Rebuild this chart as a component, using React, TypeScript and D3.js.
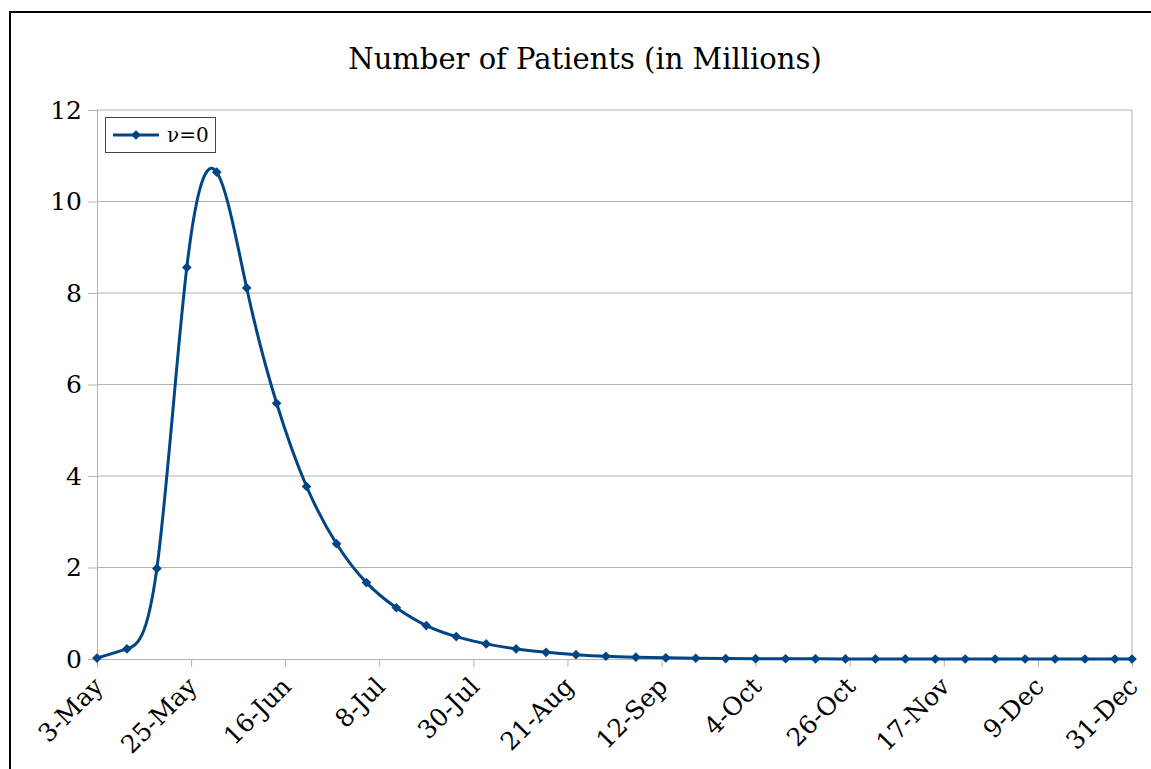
import React, { useEffect, useRef } from 'react';
import * as d3 from 'd3';

// weekly samples, plus the final day of the year
const dates: string[] = [
  '2020-05-03', '2020-05-10', '2020-05-17', '2020-05-24', '2020-05-31',
  '2020-06-07', '2020-06-14', '2020-06-21', '2020-06-28',
  '2020-07-05', '2020-07-12', '2020-07-19', '2020-07-26',
  '2020-08-02', '2020-08-09', '2020-08-16', '2020-08-23', '2020-08-30',
  '2020-09-06', '2020-09-13', '2020-09-20', '2020-09-27',
  '2020-10-04', '2020-10-11', '2020-10-18', '2020-10-25',
  '2020-11-01', '2020-11-08', '2020-11-15', '2020-11-22', '2020-11-29',
  '2020-12-06', '2020-12-13', '2020-12-20', '2020-12-27', '2020-12-31',
];

// patients in millions (nu = 0)
const patients: number[] = [
  0.02, 0.22, 1.98, 8.56, 10.64, 8.11, 5.59, 3.77, 2.52, 1.67, 1.12, 0.73,
  0.49, 0.33, 0.22, 0.145, 0.095, 0.06, 0.04, 0.025, 0.016, 0.01, 0.007, 0.005,
  0.003, 0.002, 0.001, 0.001, 0.0005, 0, 0, 0, 0, 0, 0, 0,
];

const xTicks: string[] = [
  '2020-05-03', '2020-05-25', '2020-06-16', '2020-07-08', '2020-07-30', '2020-08-21',
  '2020-09-12', '2020-10-04', '2020-10-26', '2020-11-17', '2020-12-09', '2020-12-31',
];

const yTicks: number[] = [0, 2, 4, 6, 8, 10, 12];

const seriesName = 'ν=0';
const title = 'Number of Patients (in Millions)';

const W = 1151;
const H = 769;
const FONT = '"DejaVu Serif", serif';
const BLUE = '#004586';

const App: React.FC = () => {
  const svgRef = useRef<SVGSVGElement>(null);

  useEffect(() => {
    if (!svgRef.current) return;
    const root = d3.select(svgRef.current);
    root.selectAll('*').remove();

    const margin = { top: 110, right: 19, bottom: 110, left: 97 };
    const width = W - margin.left - margin.right;
    const height = H - margin.top - margin.bottom;

    const parse = d3.timeParse('%Y-%m-%d');
    const data = dates.map((d, i) => ({ date: parse(d) as Date, value: patients[i] }));
    const tickDates = xTicks.map((d) => parse(d) as Date);

    // outer frame
    root
      .append('rect')
      .attr('x', 10)
      .attr('y', 12)
      .attr('width', 1200)
      .attr('height', 800)
      .attr('fill', 'white')
      .attr('stroke', '#000')
      .attr('stroke-width', 2);

    root
      .append('text')
      .attr('x', 585)
      .attr('y', 69)
      .attr('text-anchor', 'middle')
      .style('font-family', FONT)
      .style('font-size', '29px')
      .style('fill', '#000')
      .text(title);

    const svg = root.append('g').attr('transform', `translate(${margin.left},${margin.top})`);

    const xScale = d3
      .scaleTime()
      .domain([tickDates[0], tickDates[tickDates.length - 1]])
      .range([0, width]);

    const yScale = d3.scaleLinear().domain([0, 12]).range([height, 0]);

    // Grid lines
    svg
      .append('g')
      .selectAll('line')
      .data(yTicks.slice(1))
      .enter()
      .append('line')
      .attr('x1', 0)
      .attr('x2', width)
      .attr('y1', (d) => yScale(d))
      .attr('y2', (d) => yScale(d))
      .attr('stroke', '#b3b3b3')
      .attr('stroke-width', 1);

    // right border of plot
    svg
      .append('line')
      .attr('x1', width)
      .attr('x2', width)
      .attr('y1', 0)
      .attr('y2', height)
      .attr('stroke', '#b3b3b3');

    // Y-axis
    const yAxis = svg
      .append('g')
      .call(d3.axisLeft(yScale).tickValues(yTicks).tickSize(9).tickPadding(6).tickFormat((d) => `${d}`));
    yAxis.select('.domain').attr('stroke', '#b3b3b3');
    yAxis.selectAll('line').attr('stroke', '#b3b3b3');
    yAxis
      .selectAll('text')
      .style('font-family', FONT)
      .style('font-size', '25px')
      .style('fill', '#000');

    // X-axis
    const xAxis = svg
      .append('g')
      .attr('transform', `translate(0,${height})`)
      .call(
        d3
          .axisBottom(xScale)
          .tickValues(tickDates)
          .tickSize(8)
          .tickSizeOuter(0)
          .tickFormat((d) => d3.timeFormat('%-d-%b')(d as Date))
      );
    xAxis.select('.domain').attr('stroke', '#b3b3b3');
    xAxis.selectAll('line').attr('stroke', '#b3b3b3');
    xAxis
      .selectAll('text')
      .attr('transform', 'translate(7,29) rotate(-45)')
      .attr('dy', 0)
      .attr('y', 0)
      .attr('x', 0)
      .style('text-anchor', 'end')
      .style('font-family', FONT)
      .style('font-size', '25px')
      .style('fill', '#000');

    const line = d3
      .line<typeof data[0]>()
      .x((d) => xScale(d.date))
      .y((d) => yScale(d.value))
      .curve(d3.curveNatural);

    svg
      .append('path')
      .datum(data)
      .attr('fill', 'none')
      .attr('stroke', BLUE)
      .attr('stroke-width', 3)
      .attr('d', line);

    const diamond = d3.symbol().type(d3.symbolDiamond2).size(60);

    svg
      .selectAll('.dot')
      .data(data)
      .enter()
      .append('path')
      .attr('class', 'dot')
      .attr('transform', (d) => `translate(${xScale(d.date)},${yScale(d.value)})`)
      .attr('d', diamond)
      .attr('fill', BLUE);

    // Legend
    const legend = root.append('g').attr('transform', 'translate(105,117)');
    legend
      .append('rect')
      .attr('x', 0.5)
      .attr('y', 0.5)
      .attr('width', 110)
      .attr('height', 35)
      .attr('fill', 'white')
      .attr('stroke', '#444')
      .attr('stroke-width', 1);
    legend
      .append('line')
      .attr('x1', 8)
      .attr('x2', 54)
      .attr('y1', 18)
      .attr('y2', 18)
      .attr('stroke', BLUE)
      .attr('stroke-width', 3);
    legend
      .append('path')
      .attr('transform', 'translate(31,18)')
      .attr('d', diamond)
      .attr('fill', BLUE);
    legend
      .append('text')
      .attr('x', 62)
      .attr('y', 25)
      .style('font-family', FONT)
      .style('font-size', '20px')
      .style('fill', '#000')
      .text(seriesName);
  }, []);

  return (
    <div style={{ position: 'absolute', left: 0, top: 0, width: W, height: H, overflow: 'hidden' }}>
      <svg ref={svgRef} width={W} height={H} style={{ display: 'block' }} />
    </div>
  );
};

export default App;
